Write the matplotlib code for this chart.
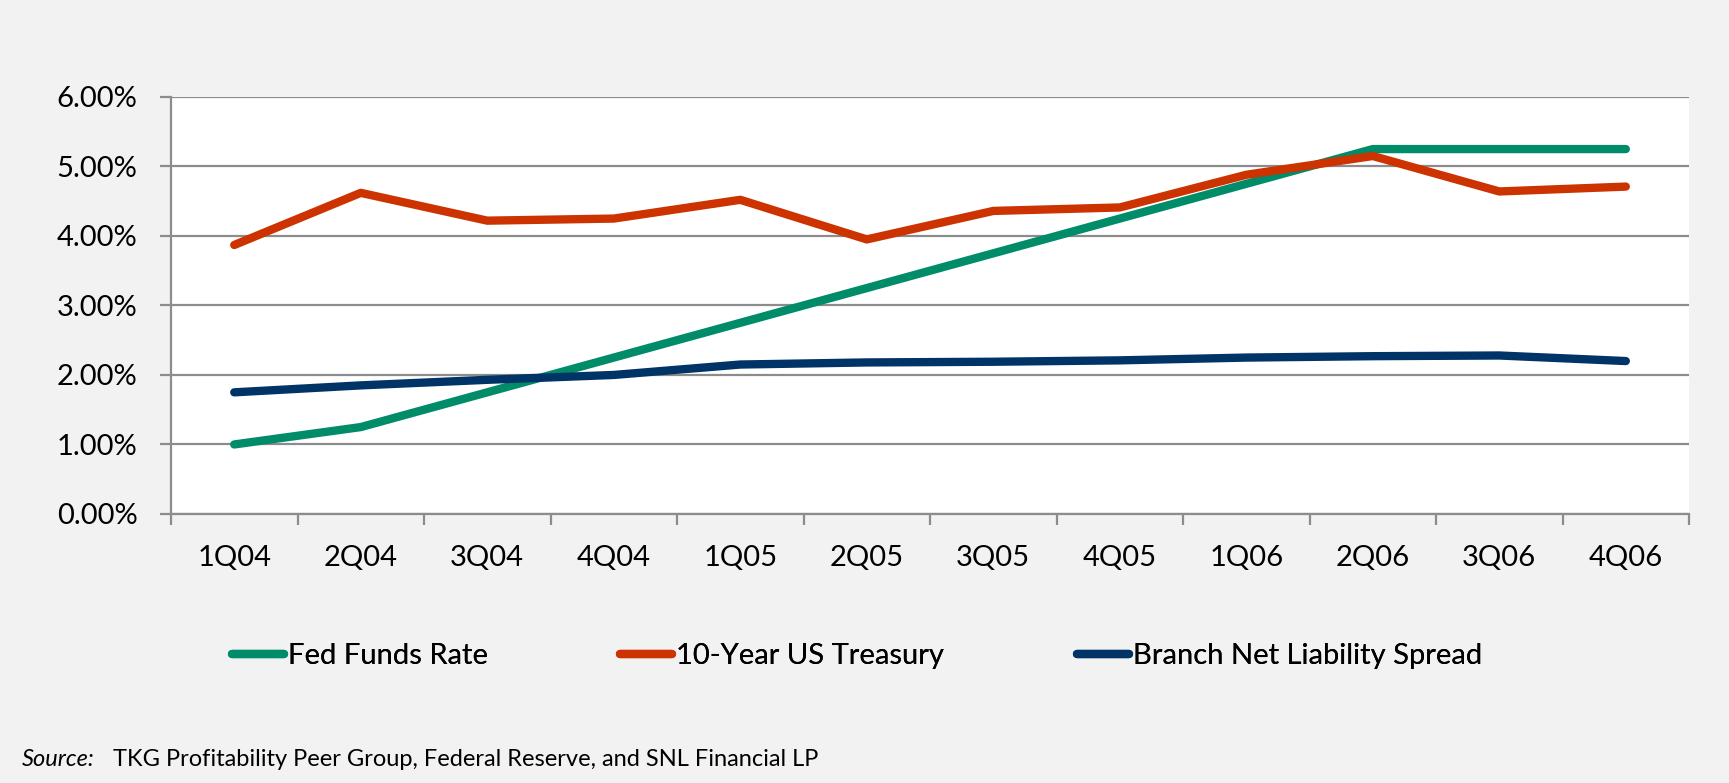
import matplotlib.pyplot as plt
from matplotlib.ticker import FuncFormatter, FixedLocator

# données
trimestres = ["1Q04", "2Q04", "3Q04", "4Q04", "1Q05", "2Q05",
              "3Q05", "4Q05", "1Q06", "2Q06", "3Q06", "4Q06"]
fed_funds = [1.00, 1.25, 1.75, 2.25, 2.75, 3.25, 3.75, 4.25, 4.75, 5.25, 5.25, 5.25]
treasury_10y = [3.87, 4.62, 4.22, 4.25, 4.52, 3.95, 4.36, 4.41, 4.88, 5.15, 4.64, 4.71]
spread_branch = [1.75, 1.85, 1.93, 2.00, 2.15, 2.18, 2.19, 2.21, 2.25, 2.27, 2.28, 2.20]

noms = ["Fed Funds Rate", "10-Year US Treasury", "Branch Net Liability Spread"]
couleurs = ['#008c69', '#cc3300', '#003366']

plt.rcParams['font.family'] = ['Lato', 'DejaVu Sans']

fig = plt.figure(figsize=(17.29, 7.83), dpi=100, facecolor='#f2f2f2')
ax = fig.add_axes([0.0989, 0.3436, 0.878, 0.5326])
ax.set_facecolor('white')

x = range(len(trimestres))
lignes = []
for serie, nom, c, z in zip([fed_funds, treasury_10y, spread_branch], noms, couleurs, [3, 4, 3]):
    l, = ax.plot(x, serie, color=c, lw=6, solid_capstyle='round',
                 solid_joinstyle='round', label=nom, zorder=z)
    lignes.append(l)

ax.set_xlim(-0.5, len(trimestres) - 0.5)
ax.set_ylim(0, 6)
ax.set_yticks(range(0, 7))
ax.yaxis.set_major_formatter(FuncFormatter(lambda v, p: f"{v:.2f}%"))
ax.set_xticks(list(x))
ax.set_xticklabels(trimestres)
ax.xaxis.set_minor_locator(FixedLocator([i - 0.5 for i in range(len(trimestres) + 1)]))

gris = '#8c8c8c'
ax.grid(axis='y', color=gris, lw=1.6, zorder=1)
for s in ['top', 'right']:
    ax.spines[s].set_visible(False)
for s in ['left', 'bottom']:
    ax.spines[s].set_color(gris)
    ax.spines[s].set_linewidth(1.6)
    ax.spines[s].set_zorder(2)

ax.tick_params(axis='y', length=8, width=1.6, color=gris, pad=16, labelsize=21)
ax.tick_params(axis='x', which='major', length=0, pad=22, labelsize=21)
ax.tick_params(axis='x', which='minor', length=8, width=1.6, color=gris)

# légende : une entrée par position
positions_leg = [0.1342, 0.3586, 0.6229]
for l, px in zip(lignes, positions_leg):
    leg = fig.legend(handles=[l], loc='center left', bbox_to_anchor=(px, 0.1622),
                     frameon=False, fontsize=21, handlelength=1.78, handletextpad=0.15,
                     borderpad=0, borderaxespad=0)
    fig.add_artist(leg)

fig.text(0.0127, 0.0294, "Source:", fontsize=17, style='italic', ha='left', va='center')
fig.text(0.0654, 0.0294, "TKG Profitability Peer Group, Federal Reserve, and SNL Financial LP",
         fontsize=17, ha='left', va='center')

fig.savefig("out.png", dpi=100, facecolor=fig.get_facecolor())
